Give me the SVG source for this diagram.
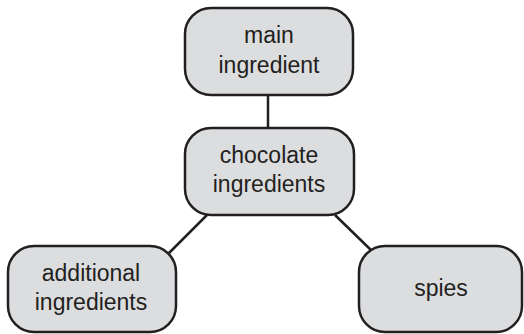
<svg xmlns="http://www.w3.org/2000/svg" width="524" height="334" viewBox="0 0 524 334">
<style>
.box{fill:#dcdddf;stroke:#231f20;stroke-width:2.5}
.lbl{font-family:"Liberation Sans",Arial,sans-serif;font-size:23px;fill:#231f20;text-anchor:middle}
.con{stroke:#231f20;stroke-width:2.5;fill:none}
</style>
<rect width="524" height="334" fill="#ffffff"/>
<g id="connectors">
<line class="con" x1="268" y1="95" x2="268" y2="128"/>
<line class="con" x1="207" y1="215" x2="167" y2="255"/>
<line class="con" x1="335" y1="215" x2="373" y2="252"/>
</g>
<g id="main">
<rect class="box" x="185" y="8" width="168" height="87" rx="26"/>
<text class="lbl" x="269" y="43">main</text>
<text class="lbl" x="269" y="73">ingredient</text>
</g>
<g id="chocolate">
<rect class="box" x="185" y="128" width="169" height="87" rx="26"/>
<text class="lbl" x="269" y="163">chocolate</text>
<text class="lbl" x="269" y="192">ingredients</text>
</g>
<g id="additional">
<rect class="box" x="8" y="246" width="168" height="86" rx="26"/>
<text class="lbl" x="91" y="281">additional</text>
<text class="lbl" x="91" y="310">ingredients</text>
</g>
<g id="spies">
<rect class="box" x="359" y="246" width="163" height="86" rx="26"/>
<text class="lbl" x="441" y="296">spies</text>
</g>
</svg>
